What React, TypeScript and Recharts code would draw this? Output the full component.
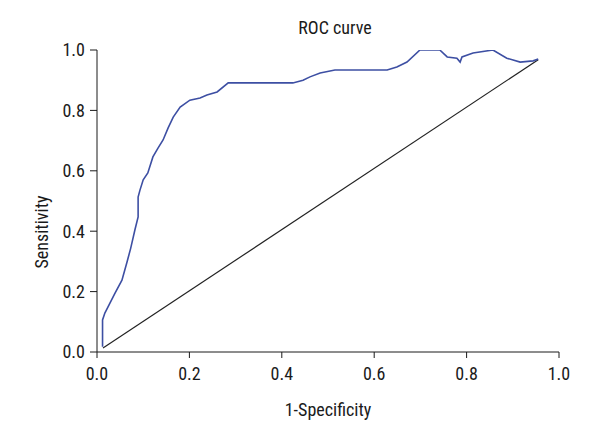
import React from "react";
import { LineChart, Line, XAxis, YAxis } from "recharts";

const rocX = [0.012, 0.012, 0.017, 0.028, 0.039, 0.054, 0.065, 0.073, 0.082, 0.089, 0.089, 0.093, 0.1, 0.11, 0.121, 0.132, 0.143, 0.154, 0.165, 0.18, 0.201, 0.223, 0.238, 0.26, 0.284, 0.424, 0.446, 0.461, 0.483, 0.515, 0.628, 0.649, 0.671, 0.699, 0.742, 0.758, 0.779, 0.786, 0.79, 0.814, 0.857, 0.887, 0.916, 0.944, 0.955];
const rocY = [0.017, 0.106, 0.129, 0.162, 0.195, 0.238, 0.298, 0.344, 0.404, 0.447, 0.513, 0.536, 0.57, 0.593, 0.646, 0.675, 0.702, 0.742, 0.778, 0.811, 0.834, 0.841, 0.851, 0.861, 0.891, 0.891, 0.9, 0.911, 0.924, 0.934, 0.934, 0.944, 0.96, 1.0, 1.0, 0.977, 0.973, 0.96, 0.977, 0.99, 1.0, 0.973, 0.96, 0.964, 0.97];
const refX = [0.013, 0.955];
const refY = [0.013, 0.968];
const ticks = [0, 0.2, 0.4, 0.6, 0.8, 1.0];

const rocData = rocX.map((x, i) => ({ x, y: rocY[i] }));
const refData = refX.map((x, i) => ({ x, y: refY[i] }));

const FONT = "'Roboto Condensed', 'Liberation Sans Narrow', Roboto, sans-serif";
const FS = 18;
const tickStyle = { fontSize: FS, fill: "#1a1a1a", fontFamily: FONT };

export default function App() {
  return (
    <div style={{ position: "relative", width: 600, height: 440, fontFamily: FONT }}>
      <div style={{ position: "absolute", left: 0, width: 654, top: 9, textAlign: "center", fontSize: FS, lineHeight: "21px", color: "#1a1a1a" }}>
        ROC curve
      </div>
      <div
        style={{
          position: "absolute",
          left: 34,
          top: 224,
          transform: "translate(-50%, -50%) rotate(-90deg)",
          whiteSpace: "nowrap",
          fontSize: FS,
          lineHeight: "18px",
          color: "#1a1a1a",
        }}
      >
        Sensitivity
      </div>
      <LineChart width={600} height={440} margin={{ top: 42, right: 49, bottom: 66, left: 0 }}>
        <XAxis
          dataKey="x"
          type="number"
          domain={[0, 1]}
          ticks={ticks}
          tickFormatter={(v: number) => v.toFixed(1)}
          allowDataOverflow
          height={30}
          tickSize={6}
          tickMargin={9}
          stroke="#1a1a1a"
          tick={tickStyle}
          label={{ value: "1-Specificity", position: "bottom", offset: 21, style: { fontSize: FS, fill: "#1a1a1a", fontFamily: FONT } }}
        />
        <YAxis
          dataKey="y"
          type="number"
          domain={[0, 1]}
          ticks={ticks}
          tickFormatter={(v: number) => v.toFixed(1)}
          allowDataOverflow
          width={89}
          tickSize={7}
          tickMargin={5}
          stroke="#1a1a1a"
          tick={tickStyle}
        />
        <Line data={refData} dataKey="y" stroke="#222" strokeWidth={1.2} dot={false} isAnimationActive={false} />
        <Line data={rocData} dataKey="y" stroke="#3d4fa3" strokeWidth={1.6} dot={false} isAnimationActive={false} />
      </LineChart>
    </div>
  );
}
